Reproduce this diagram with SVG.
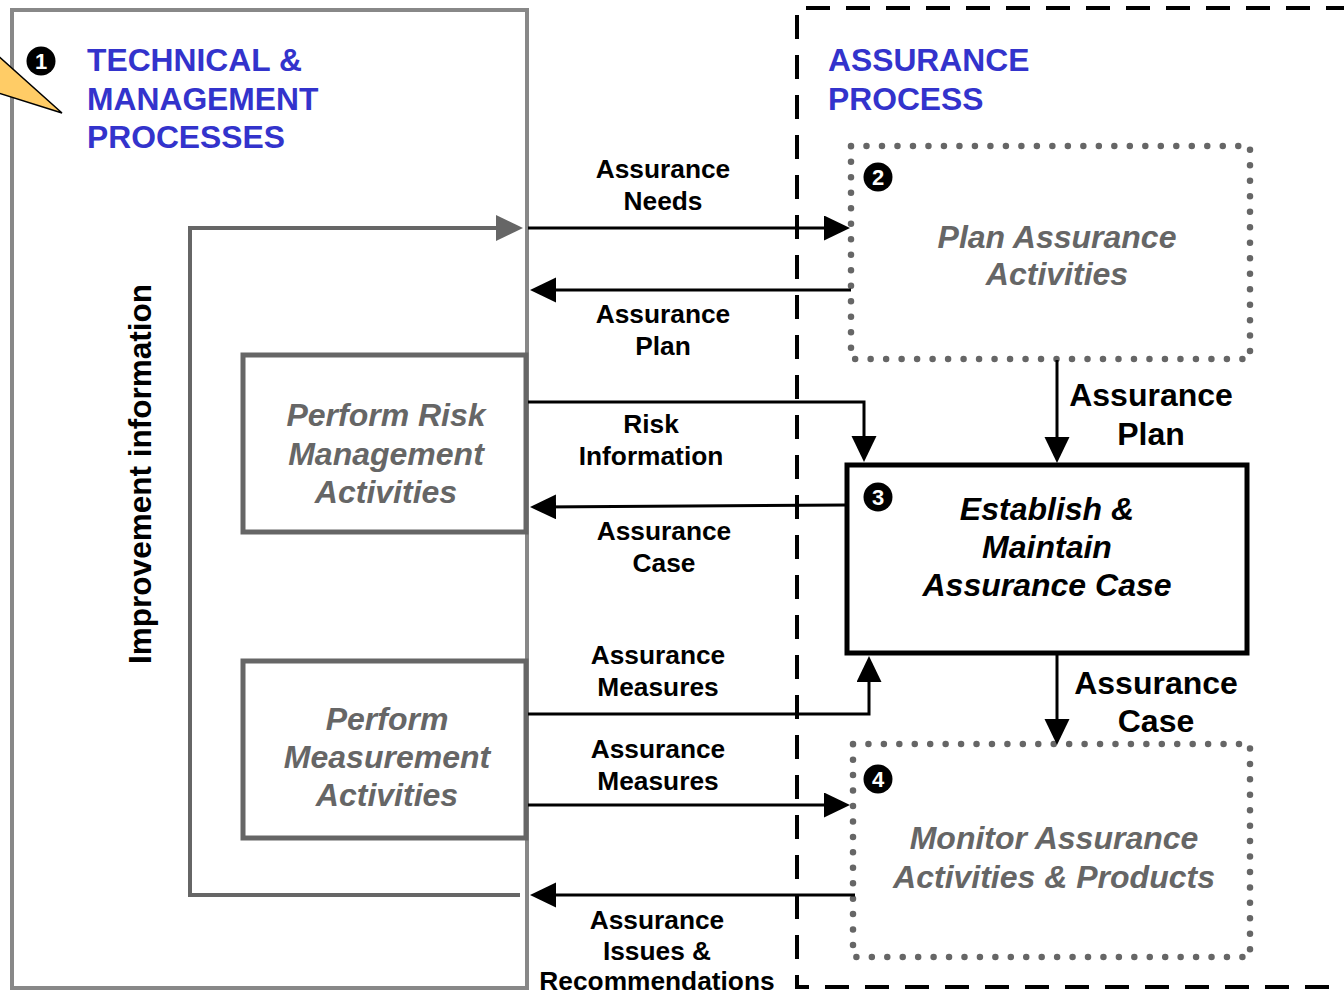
<svg xmlns="http://www.w3.org/2000/svg" width="1344" height="996" viewBox="0 0 1344 996">
  <style>
    .title { font-family: "Liberation Sans", Arial, sans-serif; font-weight: bold; font-size: 31.8px; fill: #3333CC; }
    .proc { font-family: "Liberation Sans", Arial, sans-serif; font-weight: bold; font-style: italic; font-size: 32px; fill: #666666; text-anchor: middle; }
    .main { font-family: "Liberation Sans", Arial, sans-serif; font-weight: bold; font-style: italic; font-size: 32px; fill: #000000; text-anchor: middle; }
    .lbl { font-family: "Liberation Sans", Arial, sans-serif; font-weight: bold; font-size: 26.3px; fill: #000000; text-anchor: middle; }
    .lblbig { font-family: "Liberation Sans", Arial, sans-serif; font-weight: bold; font-size: 32px; fill: #000000; text-anchor: middle; }
    .num { font-family: "Liberation Sans", Arial, sans-serif; font-weight: bold; font-size: 22px; fill: #ffffff; text-anchor: middle; }
    .flow { fill: none; stroke: #000000; stroke-width: 3; marker-end: url(#arrow); }
    .dots { fill: none; stroke: #666666; stroke-width: 6.5; stroke-linecap: round; }
    .grayBox { fill: #ffffff; stroke: #666666; stroke-width: 5; }
  </style>
  <defs>
    <marker id="arrow" markerUnits="userSpaceOnUse" markerWidth="26" markerHeight="26" refX="16" refY="12.5" orient="auto">
      <path d="M0,0 L26,12.5 L0,25 Z" fill="#000000"/>
    </marker>
    <marker id="grayArrow" markerUnits="userSpaceOnUse" markerWidth="28" markerHeight="28" refX="16" refY="13" orient="auto">
      <path d="M0,0 L27,13 L0,26 Z" fill="#666666"/>
    </marker>
  </defs>

  <rect width="1344" height="996" fill="#ffffff"/>

  <!-- Technical & management processes container -->
  <g id="tech-mgmt">
    <rect x="12" y="10" width="515" height="978" fill="none" stroke="#888888" stroke-width="4"/>
    <polygon points="-5,53 62,113 -5,92" fill="#FFCC66" stroke="#000000" stroke-width="1.5"/>
    <circle cx="41" cy="61" r="14.5" fill="#000000"/>
    <text class="num" x="41" y="69">1</text>
    <text class="title" x="87" y="71">TECHNICAL &amp;</text>
    <text class="title" x="87" y="110">MANAGEMENT</text>
    <text class="title" x="87" y="148">PROCESSES</text>
  </g>

  <!-- Assurance process container (dashed) -->
  <g id="assurance-process">
    <path d="M1350,8 H797 V987 H1350" fill="none" stroke="#000000" stroke-width="4" stroke-dasharray="24 16"/>
    <text class="title" x="828" y="71">ASSURANCE</text>
    <text class="title" x="828" y="110">PROCESS</text>
  </g>

  <!-- Perform risk management activities -->
  <g id="risk-mgmt">
    <rect class="grayBox" x="243" y="355" width="283" height="177"/>
    <text class="proc" x="386" y="426">Perform Risk</text>
    <text class="proc" x="386" y="464.5">Management</text>
    <text class="proc" x="386" y="503">Activities</text>
  </g>

  <!-- Perform measurement activities -->
  <g id="measurement">
    <rect class="grayBox" x="243" y="661" width="283" height="177"/>
    <text class="proc" x="387" y="730">Perform</text>
    <text class="proc" x="387" y="768">Measurement</text>
    <text class="proc" x="387" y="806">Activities</text>
  </g>

  <!-- 2: Plan assurance activities -->
  <g id="plan">
    <rect class="dots" x="851" y="146" width="399" height="213" stroke-dasharray="0 15.49"/>
    <circle cx="878" cy="177" r="14.5" fill="#000000"/>
    <text class="num" x="878" y="185">2</text>
    <text class="proc" x="1057" y="248">Plan Assurance</text>
    <text class="proc" x="1057" y="285">Activities</text>
  </g>

  <!-- 3: Establish & maintain assurance case -->
  <g id="establish">
    <rect x="847" y="465" width="400" height="188" fill="#ffffff" stroke="#000000" stroke-width="5"/>
    <circle cx="878" cy="497" r="14.5" fill="#000000"/>
    <text class="num" x="878" y="505">3</text>
    <text class="main" x="1047" y="520">Establish &amp;</text>
    <text class="main" x="1047" y="558">Maintain</text>
    <text class="main" x="1047" y="596">Assurance Case</text>
  </g>

  <!-- 4: Monitor assurance activities & products -->
  <g id="monitor">
    <rect class="dots" x="853" y="744" width="397" height="213" stroke-dasharray="0 15.44"/>
    <circle cx="878" cy="779" r="14.5" fill="#000000"/>
    <text class="num" x="878" y="787">4</text>
    <text class="proc" x="1054" y="849">Monitor Assurance</text>
    <text class="proc" x="1054" y="888">Activities &amp; Products</text>
  </g>

  <!-- Connectors -->
  <g id="connectors">
    <!-- improvement information feedback loop -->
    <path d="M520,895 H190 V228 H512" fill="none" stroke="#666666" stroke-width="4" marker-end="url(#grayArrow)"/>
    <text class="lblbig" transform="translate(151,474) rotate(-90)" style="font-size:31.5px">Improvement information</text>

    <path class="flow" d="M528,228 H840"/>
    <text class="lbl" x="663" y="178">Assurance</text>
    <text class="lbl" x="663" y="210">Needs</text>

    <path class="flow" d="M851,290 H540"/>
    <text class="lbl" x="663" y="323">Assurance</text>
    <text class="lbl" x="663" y="355">Plan</text>

    <path class="flow" d="M1057,360 V453"/>
    <text class="lblbig" x="1151" y="406">Assurance</text>
    <text class="lblbig" x="1151" y="445">Plan</text>

    <path class="flow" d="M528,402 H864 V452"/>
    <text class="lbl" x="651" y="433">Risk</text>
    <text class="lbl" x="651" y="465">Information</text>

    <path class="flow" d="M847,505 L540,507"/>
    <text class="lbl" x="664" y="540">Assurance</text>
    <text class="lbl" x="664" y="572">Case</text>

    <path class="flow" d="M528,714 H869 V666"/>
    <text class="lbl" x="658" y="664">Assurance</text>
    <text class="lbl" x="658" y="696">Measures</text>

    <path class="flow" d="M1057,654 V735"/>
    <text class="lblbig" x="1156" y="694">Assurance</text>
    <text class="lblbig" x="1156" y="732">Case</text>

    <path class="flow" d="M528,805 H840"/>
    <text class="lbl" x="658" y="758">Assurance</text>
    <text class="lbl" x="658" y="790">Measures</text>

    <path class="flow" d="M855,895 H540"/>
    <text class="lbl" x="657" y="929">Assurance</text>
    <text class="lbl" x="657" y="960">Issues &amp;</text>
    <text class="lbl" x="657" y="990">Recommendations</text>
  </g>
</svg>
